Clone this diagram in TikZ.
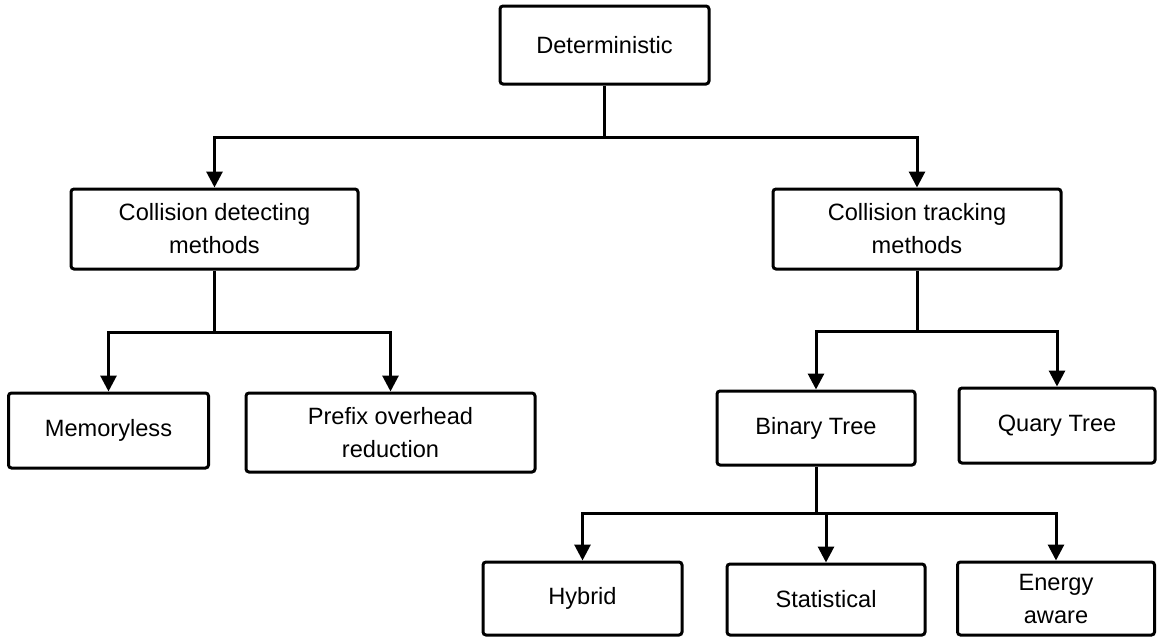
\documentclass[tikz,border=0pt]{standalone}
\usepackage{fontspec}
\setmainfont{Liberation Sans}
\usetikzlibrary{arrows.meta}
\begin{document}
\begin{tikzpicture}[x=1pt,y=-1pt,
  box/.style={draw, line width=3pt, rounded corners=3pt, align=center,
    inner sep=0pt, font=\fontsize{23.6}{33}\selectfont},
  link/.style={line width=3pt},
  arr/.style={link, -{Triangle[length=16pt,width=16pt]}}]
\useasboundingbox (0,0) rectangle (1157,637);
% boxes
\node[box, minimum width=209pt, minimum height=78pt] (det) at (604.5,45) {Deterministic};
\node[box, minimum width=287pt, minimum height=80pt] (cdm) at (214.5,229) {Collision detecting\\methods};
\node[box, minimum width=288pt, minimum height=80pt] (ctm) at (917,229) {Collision tracking\\methods};
\node[box, minimum width=200pt, minimum height=75pt] (mem) at (108.5,430.5) {Memoryless};
\node[box, minimum width=289pt, minimum height=79pt] (pre) at (390.5,432.5) {Prefix overhead\\reduction};
\node[box, minimum width=198pt, minimum height=74pt] (bin) at (816,428) {Binary Tree};
\node[box, minimum width=196pt, minimum height=75pt] (qua) at (1057,425.5) {Quary Tree};
\node[box, minimum width=199pt, minimum height=73pt] (hyb) at (582.5,598.5) {Hybrid};
\node[box, minimum width=198pt, minimum height=71pt] (sta) at (826,599.5) {Statistical};
\node[box, minimum width=197pt, minimum height=73pt] (ene) at (1056,598.5) {Energy\\aware};
% junction points
\coordinate (j1) at (604.5,137);
\coordinate (j2) at (214.5,332);
\coordinate (j3) at (917,331);
\coordinate (j4) at (816,513);
% connectors
\draw[link] (det.south) -- (j1);
\draw[arr] (j1) -| (cdm.north);
\draw[arr] (j1) -| (ctm.north);
\draw[link] (cdm.south) -- (j2);
\draw[arr] (j2) -| (mem.north);
\draw[arr] (j2) -| (pre.north);
\draw[link] (ctm.south) -- (j3);
\draw[arr] (j3) -| (bin.north);
\draw[arr] (j3) -| (qua.north);
\draw[link] (bin.south) -- (j4);
\draw[arr] (j4) -| (hyb.north);
\draw[arr] (j4) -| (ene.north);
\draw[arr] (j4 -| sta.north) -- (sta.north);
\end{tikzpicture}
\end{document}
